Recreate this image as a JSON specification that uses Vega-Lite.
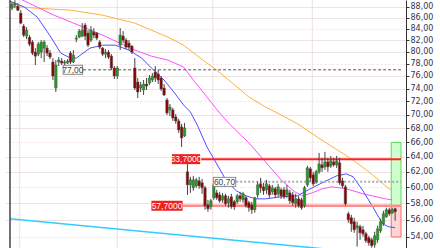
{
"$schema":"https://vega.github.io/schema/vega-lite/v6.json",
"width":401,"height":248,
"autosize":{"type":"none"},
"padding":{"left":5,"top":0,"right":34,"bottom":0},
"background":"#ffffff",
"config":{"view":{"stroke":null}},
"datasets":{
"candles":[
{"i":0,"o":87.76,"h":88.88,"l":87.39,"c":88.51},
{"i":1,"o":88.32,"h":89.26,"l":87.76,"c":88.70},
{"i":2,"o":88.13,"h":88.70,"l":87.21,"c":87.39},
{"i":3,"o":86.84,"h":87.39,"l":84.84,"c":85.02},
{"i":4,"o":84.48,"h":84.84,"l":82.53,"c":82.88},
{"i":5,"o":82.71,"h":84.30,"l":82.18,"c":83.77},
{"i":6,"o":82.53,"h":82.88,"l":80.97,"c":81.31},
{"i":7,"o":81.66,"h":82.01,"l":79.44,"c":79.78},
{"i":8,"o":79.95,"h":80.63,"l":77.78,"c":79.27},
{"i":9,"o":79.61,"h":81.66,"l":79.27,"c":81.31},
{"i":10,"o":79.95,"h":82.01,"l":78.94,"c":81.66},
{"i":11,"o":80.63,"h":82.01,"l":78.28,"c":81.66},
{"i":12,"o":80.63,"h":81.14,"l":79.27,"c":79.78},
{"i":13,"o":79.78,"h":80.29,"l":78.78,"c":79.11},
{"i":14,"o":78.28,"h":78.94,"l":75.35,"c":75.99},
{"i":15,"o":74.08,"h":78.61,"l":73.46,"c":77.78},
{"i":16,"o":78.28,"h":79.11,"l":77.62,"c":78.61},
{"i":17,"o":78.44,"h":78.94,"l":77.78,"c":78.11},
{"i":18,"o":78.11,"h":78.61,"l":77.62,"c":78.28},
{"i":19,"o":78.11,"h":78.77,"l":77.95,"c":78.44},
{"i":20,"o":79.78,"h":80.12,"l":77.95,"c":78.28},
{"i":21,"o":78.28,"h":80.29,"l":78.11,"c":79.44},
{"i":22,"o":82.18,"h":82.88,"l":81.66,"c":82.36},
{"i":23,"o":82.53,"h":83.95,"l":82.36,"c":83.59},
{"i":24,"o":82.71,"h":85.02,"l":82.53,"c":83.77},
{"i":25,"o":84.66,"h":85.02,"l":82.01,"c":82.71},
{"i":26,"o":83.24,"h":83.77,"l":80.80,"c":81.14},
{"i":27,"o":82.01,"h":84.48,"l":81.66,"c":83.77},
{"i":28,"o":83.41,"h":84.12,"l":82.36,"c":82.88},
{"i":29,"o":83.24,"h":83.41,"l":82.01,"c":82.36},
{"i":30,"o":81.66,"h":82.01,"l":80.46,"c":80.80},
{"i":31,"o":80.63,"h":80.80,"l":79.27,"c":79.61},
{"i":32,"o":79.61,"h":80.46,"l":78.94,"c":79.95},
{"i":33,"o":79.95,"h":80.29,"l":78.78,"c":79.11},
{"i":34,"o":79.27,"h":79.61,"l":76.96,"c":77.29},
{"i":35,"o":77.29,"h":77.62,"l":75.51,"c":75.99},
{"i":36,"o":75.99,"h":77.62,"l":75.51,"c":77.29},
{"i":37,"o":81.14,"h":84.12,"l":80.29,"c":82.88},
{"i":38,"o":82.71,"h":83.59,"l":81.48,"c":82.01},
{"i":39,"o":82.01,"h":82.36,"l":80.46,"c":80.80},
{"i":40,"o":81.48,"h":82.01,"l":80.29,"c":80.80},
{"i":41,"o":80.97,"h":81.14,"l":79.61,"c":79.95},
{"i":42,"o":77.29,"h":78.94,"l":73.77,"c":74.08},
{"i":43,"o":75.03,"h":75.67,"l":72.53,"c":73.46},
{"i":44,"o":74.08,"h":75.03,"l":73.46,"c":74.55},
{"i":45,"o":73.77,"h":75.35,"l":72.99,"c":74.71},
{"i":46,"o":74.71,"h":75.67,"l":73.77,"c":74.39},
{"i":47,"o":74.87,"h":76.15,"l":74.55,"c":75.67},
{"i":48,"o":75.35,"h":76.47,"l":75.03,"c":75.99},
{"i":49,"o":76.64,"h":77.62,"l":75.03,"c":75.67},
{"i":50,"o":76.31,"h":76.96,"l":74.71,"c":75.35},
{"i":51,"o":75.67,"h":75.99,"l":73.62,"c":73.93},
{"i":52,"o":74.08,"h":74.71,"l":72.84,"c":72.99},
{"i":53,"o":72.22,"h":72.53,"l":69.96,"c":70.26},
{"i":54,"o":70.71,"h":71.61,"l":69.81,"c":71.16},
{"i":55,"o":70.71,"h":71.01,"l":69.08,"c":69.52},
{"i":56,"o":69.67,"h":70.11,"l":68.65,"c":69.08},
{"i":57,"o":69.08,"h":69.38,"l":67.35,"c":67.77},
{"i":58,"o":68.21,"h":68.65,"l":65.37,"c":66.63},
{"i":59,"o":66.92,"h":68.79,"l":66.77,"c":68.06},
{"i":60,"o":62.01,"h":63.19,"l":59.05,"c":60.32},
{"i":61,"o":60.32,"h":61.35,"l":59.30,"c":60.96},
{"i":62,"o":59.94,"h":61.48,"l":59.56,"c":60.96},
{"i":63,"o":60.19,"h":61.22,"l":59.94,"c":60.96},
{"i":64,"o":60.83,"h":61.35,"l":59.81,"c":60.19},
{"i":65,"o":60.58,"h":61.09,"l":59.18,"c":59.94},
{"i":66,"o":59.94,"h":60.19,"l":57.21,"c":57.70},
{"i":67,"o":57.82,"h":58.43,"l":56.97,"c":57.33},
{"i":68,"o":57.58,"h":58.55,"l":57.21,"c":58.31},
{"i":69,"o":58.68,"h":60.45,"l":58.43,"c":60.32},
{"i":70,"o":59.30,"h":59.68,"l":58.43,"c":58.68},
{"i":71,"o":59.05,"h":59.43,"l":58.07,"c":58.31},
{"i":72,"o":58.43,"h":59.30,"l":58.07,"c":58.93},
{"i":73,"o":58.93,"h":59.18,"l":57.70,"c":57.94},
{"i":74,"o":58.07,"h":58.93,"l":57.46,"c":58.55},
{"i":75,"o":58.80,"h":59.18,"l":57.33,"c":57.58},
{"i":76,"o":58.19,"h":58.43,"l":57.21,"c":57.58},
{"i":77,"o":58.19,"h":59.18,"l":57.94,"c":58.93},
{"i":78,"o":58.93,"h":59.43,"l":58.19,"c":58.55},
{"i":79,"o":58.43,"h":59.43,"l":58.07,"c":59.18},
{"i":80,"o":58.68,"h":58.93,"l":57.46,"c":57.70},
{"i":81,"o":58.07,"h":58.31,"l":56.97,"c":57.46},
{"i":82,"o":57.82,"h":58.19,"l":56.72,"c":57.21},
{"i":83,"o":57.21,"h":58.80,"l":56.84,"c":58.68},
{"i":84,"o":59.05,"h":60.70,"l":58.68,"c":60.32},
{"i":85,"o":60.45,"h":61.22,"l":59.30,"c":59.94},
{"i":86,"o":60.06,"h":60.58,"l":59.05,"c":59.56},
{"i":87,"o":59.68,"h":60.96,"l":59.18,"c":60.45},
{"i":88,"o":60.19,"h":60.45,"l":58.68,"c":59.05},
{"i":89,"o":59.43,"h":60.32,"l":59.05,"c":59.94},
{"i":90,"o":59.81,"h":60.06,"l":58.68,"c":59.05},
{"i":91,"o":59.18,"h":60.45,"l":58.80,"c":60.06},
{"i":92,"o":59.68,"h":59.94,"l":58.55,"c":58.93},
{"i":93,"o":59.68,"h":60.06,"l":58.55,"c":58.80},
{"i":94,"o":59.05,"h":60.32,"l":58.68,"c":59.68},
{"i":95,"o":59.30,"h":59.68,"l":57.94,"c":58.31},
{"i":96,"o":59.05,"h":59.43,"l":57.70,"c":58.07},
{"i":97,"o":57.94,"h":59.18,"l":57.46,"c":58.55},
{"i":98,"o":58.55,"h":58.93,"l":57.46,"c":57.70},
{"i":99,"o":58.43,"h":58.68,"l":57.21,"c":57.46},
{"i":100,"o":57.70,"h":60.19,"l":57.46,"c":59.94},
{"i":101,"o":60.32,"h":62.80,"l":60.06,"c":62.53},
{"i":102,"o":62.40,"h":62.67,"l":60.70,"c":61.22},
{"i":103,"o":61.61,"h":62.01,"l":60.19,"c":60.45},
{"i":104,"o":60.70,"h":62.27,"l":60.45,"c":62.01},
{"i":105,"o":62.01,"h":64.55,"l":61.74,"c":63.06},
{"i":106,"o":62.93,"h":63.87,"l":62.01,"c":62.53},
{"i":107,"o":62.67,"h":64.69,"l":62.27,"c":63.33},
{"i":108,"o":63.33,"h":63.87,"l":62.01,"c":62.67},
{"i":109,"o":62.80,"h":64.14,"l":62.53,"c":63.47},
{"i":110,"o":63.33,"h":63.87,"l":62.67,"c":62.93},
{"i":111,"o":62.93,"h":64.14,"l":62.53,"c":63.47},
{"i":112,"o":63.20,"h":63.87,"l":60.32,"c":60.58},
{"i":113,"o":60.83,"h":61.22,"l":59.94,"c":60.19},
{"i":114,"o":60.06,"h":60.32,"l":57.70,"c":57.94},
{"i":115,"o":56.72,"h":56.97,"l":55.66,"c":56.01},
{"i":116,"o":56.25,"h":56.60,"l":54.60,"c":55.54},
{"i":117,"o":55.78,"h":56.25,"l":54.48,"c":54.83},
{"i":118,"o":55.07,"h":55.78,"l":52.90,"c":55.30},
{"i":119,"o":55.19,"h":55.42,"l":53.68,"c":54.48},
{"i":120,"o":54.83,"h":55.30,"l":54.02,"c":54.37},
{"i":121,"o":54.37,"h":54.60,"l":53.34,"c":53.57},
{"i":122,"o":53.91,"h":54.14,"l":53.01,"c":53.34},
{"i":123,"o":53.68,"h":53.91,"l":52.78,"c":53.01},
{"i":124,"o":53.12,"h":54.60,"l":52.78,"c":54.14},
{"i":125,"o":53.68,"h":55.30,"l":53.34,"c":54.95},
{"i":126,"o":54.71,"h":56.13,"l":54.48,"c":55.78},
{"i":127,"o":55.54,"h":57.09,"l":55.30,"c":56.72},
{"i":128,"o":56.36,"h":57.46,"l":56.25,"c":57.21},
{"i":129,"o":57.21,"h":57.46,"l":56.48,"c":56.72},
{"i":130,"o":56.84,"h":57.46,"l":56.72,"c":57.21},
{"i":131,"o":57.33,"h":57.46,"l":55.89,"c":56.97}
],
"ma":[
{"ma":"slow","i":-0.67,"v":88.13},{"ma":"slow","i":8.67,"v":87.76},{"ma":"slow","i":20,"v":87.39},{"ma":"slow","i":31,"v":86.47},{"ma":"slow","i":42,"v":85.02},{"ma":"slow","i":47.67,"v":83.77},{"ma":"slow","i":53.33,"v":82.53},{"ma":"slow","i":58.67,"v":81.14},{"ma":"slow","i":64.33,"v":78.94},{"ma":"slow","i":70,"v":76.96},{"ma":"slow","i":75.33,"v":74.87},{"ma":"slow","i":81,"v":72.68},{"ma":"slow","i":86.67,"v":71.16},{"ma":"slow","i":92,"v":69.96},{"ma":"slow","i":97.67,"v":68.65},{"ma":"slow","i":105.33,"v":66.49},{"ma":"slow","i":115,"v":64.01},{"ma":"slow","i":122,"v":62.01},{"ma":"slow","i":127.67,"v":60.19},{"ma":"slow","i":130,"v":59.56},
{"ma":"mid","i":2.33,"v":89.64},{"ma":"mid","i":14.33,"v":86.47},{"ma":"mid","i":25.33,"v":84.12},{"ma":"mid","i":31,"v":82.88},{"ma":"mid","i":42,"v":80.29},{"ma":"mid","i":47.67,"v":79.27},{"ma":"mid","i":53.33,"v":78.61},{"ma":"mid","i":58.67,"v":77.45},{"ma":"mid","i":62,"v":75.35},{"ma":"mid","i":66.67,"v":72.68},{"ma":"mid","i":71,"v":70.26},{"ma":"mid","i":74.33,"v":68.65},{"ma":"mid","i":81,"v":65.93},{"ma":"mid","i":86.67,"v":63.33},{"ma":"mid","i":92,"v":60.96},{"ma":"mid","i":96.67,"v":59.43},{"ma":"mid","i":99.33,"v":58.93},{"ma":"mid","i":102.67,"v":59.30},{"ma":"mid","i":106,"v":59.81},{"ma":"mid","i":109.33,"v":60.06},{"ma":"mid","i":114.33,"v":59.81},{"ma":"mid","i":120,"v":59.18},{"ma":"mid","i":127.67,"v":58.55},{"ma":"mid","i":130,"v":58.43},
{"ma":"fast","i":-0.67,"v":89.07},{"ma":"fast","i":4.33,"v":87.95},{"ma":"fast","i":8.67,"v":86.10},{"ma":"fast","i":13.33,"v":82.53},{"ma":"fast","i":16.67,"v":79.78},{"ma":"fast","i":20,"v":78.94},{"ma":"fast","i":22,"v":78.94},{"ma":"fast","i":26.67,"v":80.63},{"ma":"fast","i":31,"v":81.14},{"ma":"fast","i":35.33,"v":81.14},{"ma":"fast","i":40,"v":80.29},{"ma":"fast","i":44.33,"v":78.94},{"ma":"fast","i":47.67,"v":77.29},{"ma":"fast","i":52,"v":75.35},{"ma":"fast","i":55.33,"v":73.46},{"ma":"fast","i":58.67,"v":71.46},{"ma":"fast","i":61,"v":70.41},{"ma":"fast","i":63.33,"v":68.50},{"ma":"fast","i":66.67,"v":65.37},{"ma":"fast","i":70,"v":63.06},{"ma":"fast","i":73.33,"v":60.83},{"ma":"fast","i":76.67,"v":59.56},{"ma":"fast","i":80,"v":58.93},{"ma":"fast","i":83.33,"v":58.55},{"ma":"fast","i":86.67,"v":58.55},{"ma":"fast","i":92,"v":58.80},{"ma":"fast","i":97.67,"v":58.93},{"ma":"fast","i":100,"v":59.43},{"ma":"fast","i":105.33,"v":60.45},{"ma":"fast","i":111,"v":61.48},{"ma":"fast","i":114.33,"v":61.74},{"ma":"fast","i":116.67,"v":61.35},{"ma":"fast","i":120,"v":59.56},{"ma":"fast","i":123.33,"v":57.58},{"ma":"fast","i":126.67,"v":55.54},{"ma":"fast","i":128.67,"v":55.19},{"ma":"fast","i":131,"v":55.07}
],
"redlabels":[{"label":"63,7000","level":63.7,"from":54.67,"to":64.33,"mid":59.5},{"label":"57,7000","level":57.7,"from":47.67,"to":58.33,"mid":53.0}],
"graylabels":[{"label":"77,00","level":77,"from":17.33,"to":24.33,"a":17.67,"b":24.0,"mid":20.83},{"label":"60,70","level":60.7,"from":68.67,"to":76.67,"a":69.0,"b":76.33,"mid":72.67}]
},
"layer":[
{"data":{"values":[{"i":2.67},{"i":36},{"i":68.67},{"i":102.67}]},
 "mark":{"type":"rule","color":"#eedfdf","strokeWidth":1},
 "encoding":{"x":{"field":"i","type":"quantitative","scale":{"domain":[-0.67,133],"nice":false,"zero":false},"axis":null}}},
{"data":{"name":"candles"},
 "mark":{"type":"rule","color":"#444444","strokeWidth":1,"opacity":0},
 "encoding":{"x":{"field":"i","type":"quantitative","scale":{"domain":[-0.67,133],"nice":false,"zero":false},"axis":null},
  "y":{"field":"h","type":"quantitative","title":null,"scale":{"type":"log","domain":[52.75,89.3],"nice":false,"zero":false},
   "axis":{"orient":"right","values":[54,56,58,60,62,64,66,68,70,72,74,76,78,80,82,84,86,88],"labelExpr":"replace(format(datum.value,'.2f'),'.',',')","tickSize":3,"tickColor":"#333333","domainColor":"#333333","labelFont":"DejaVu Sans","labelFontSize":8,"labelColor":"#333355","labelPadding":1,"labelBound":false,"labelOverlap":false,"labelFlush":false,"grid":true,"gridColor":"#efe4e4","gridDash":{"condition":{"test":"datum.value % 6 === 0","value":[2,2]},"value":[]}}},
  "y2":{"field":"l"}}},
{"data":{"values":[{"kind":"target","from":129.67,"to":133,"top":66.0,"bottom":57.7},{"kind":"stop","from":129.67,"to":133,"top":57.7,"bottom":54.0}]},
 "mark":{"type":"rect","strokeWidth":1},
 "encoding":{"x":{"field":"from","type":"quantitative"},"x2":{"field":"to"},
  "y":{"field":"top","type":"quantitative","title":null},"y2":{"field":"bottom"},
  "fill":{"field":"kind","type":"nominal","scale":{"domain":["target","stop"],"range":["#ccffcc","#ffd4d4"]},"legend":null},
  "stroke":{"field":"kind","type":"nominal","scale":{"domain":["target","stop"],"range":["#55dd55","#ff6666"]},"legend":null}}},
{"data":{"values":[{"i":-0.67,"v":56.13},{"i":133,"v":51.84}]},
 "mark":{"type":"line","color":"#33ccff","strokeWidth":1.5,"clip":true},
 "encoding":{"x":{"field":"i","type":"quantitative"},"y":{"field":"v","type":"quantitative","title":null}}},
{"data":{"name":"ma"},
 "mark":{"type":"line","strokeWidth":1,"clip":true},
 "encoding":{"x":{"field":"i","type":"quantitative"},"y":{"field":"v","type":"quantitative","title":null},
  "color":{"field":"ma","type":"nominal","scale":{"domain":["slow","mid","fast"],"range":["#ffb040","#ff4dff","#4f4fff"]},"legend":null}}},
{"data":{"values":[{"from":24.33,"to":133,"level":77}]},
 "mark":{"type":"rule","color":"#555555","strokeWidth":1,"strokeDash":[3,2]},
 "encoding":{"x":{"field":"from","type":"quantitative"},"x2":{"field":"to"},"y":{"field":"level","type":"quantitative","title":null}}},
{"data":{"values":[{"from":76.67,"to":133,"level":60.7}]},
 "mark":{"type":"rule","color":"#aaaaaa","strokeWidth":2,"strokeDash":[2,2]},
 "encoding":{"x":{"field":"from","type":"quantitative"},"x2":{"field":"to"},"y":{"field":"level","type":"quantitative","title":null}}},
{"data":{"values":[{"from":64.33,"to":133,"level":63.7}]},
 "mark":{"type":"rule","color":"#ff2020","strokeWidth":2},
 "encoding":{"x":{"field":"from","type":"quantitative"},"x2":{"field":"to"},"y":{"field":"level","type":"quantitative","title":null}}},
{"data":{"values":[{"from":58.33,"to":133,"level":57.7}]},
 "mark":{"type":"rule","color":"#ff8c8c","strokeWidth":2.5},
 "encoding":{"x":{"field":"from","type":"quantitative"},"x2":{"field":"to"},"y":{"field":"level","type":"quantitative","title":null}}},
{"data":{"name":"candles"},
 "mark":{"type":"rule","color":"#444444","strokeWidth":1},
 "encoding":{"x":{"field":"i","type":"quantitative"},"y":{"field":"l","type":"quantitative","title":null},"y2":{"field":"h"}}},
{"data":{"name":"candles"},
 "mark":{"type":"bar","size":2.5,"stroke":"#555555","strokeWidth":0.5},
 "encoding":{"x":{"field":"i","type":"quantitative"},"y":{"field":"o","type":"quantitative","title":null},"y2":{"field":"c"},
  "color":{"condition":{"test":"datum.c < datum.o","value":"#8e0000"},"value":"#1fa01f"}}},
{"data":{"name":"redlabels"},
 "mark":{"type":"rule","color":"#ee2020","strokeWidth":10,"strokeCap":"butt"},
 "encoding":{"x":{"field":"from","type":"quantitative"},"x2":{"field":"to"},"y":{"field":"level","type":"quantitative","title":null}}},
{"data":{"name":"redlabels"},
 "mark":{"type":"text","color":"#ffffff","font":"Liberation Sans","fontSize":8.5,"align":"center","baseline":"middle"},
 "encoding":{"x":{"field":"mid","type":"quantitative"},"y":{"field":"level","type":"quantitative","title":null},"text":{"field":"label"}}},
{"data":{"name":"graylabels"},
 "mark":{"type":"rule","color":"#888888","strokeWidth":10,"strokeCap":"butt"},
 "encoding":{"x":{"field":"from","type":"quantitative"},"x2":{"field":"to"},"y":{"field":"level","type":"quantitative","title":null}}},
{"data":{"name":"graylabels"},
 "mark":{"type":"rule","color":"#ffffff","strokeWidth":8,"strokeCap":"butt"},
 "encoding":{"x":{"field":"a","type":"quantitative"},"x2":{"field":"b"},"y":{"field":"level","type":"quantitative","title":null}}},
{"data":{"name":"graylabels"},
 "mark":{"type":"text","color":"#444444","font":"Liberation Sans","fontSize":8.5,"align":"center","baseline":"middle"},
 "encoding":{"x":{"field":"mid","type":"quantitative"},"y":{"field":"level","type":"quantitative","title":null},"text":{"field":"label"}}},
{"data":{"values":[{}]},
 "mark":{"type":"rule","color":"#444444","strokeWidth":1.5},
 "encoding":{"x":{"datum":-0.67,"type":"quantitative"}}}
]
}
